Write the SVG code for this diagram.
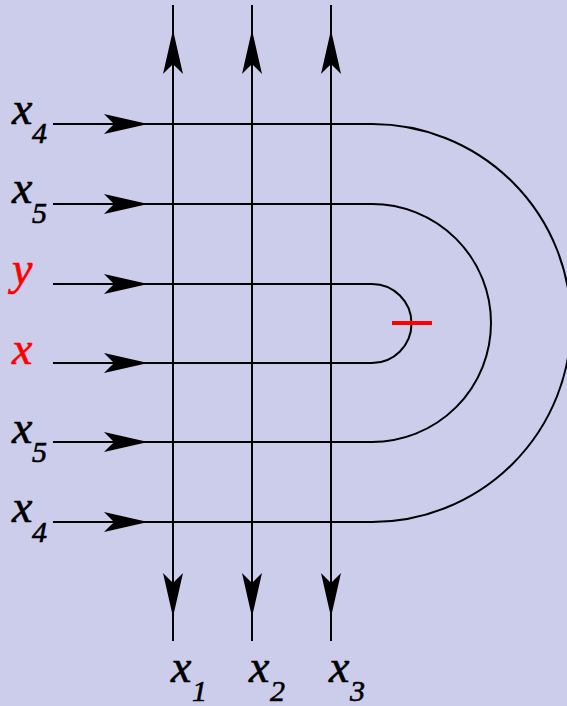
<svg xmlns="http://www.w3.org/2000/svg" xmlns:xlink="http://www.w3.org/1999/xlink" width="567" height="706" viewBox="0 0 567 706">
<style>
.ln{fill:none;stroke:#000;stroke-width:2}
text{font-family:'Liberation Serif','Times New Roman',serif;font-style:italic;fill:#000;stroke:#000;stroke-width:0.6}
.main{font-size:46px}
.sub{font-size:30px}
.red{fill:#ff0000;stroke:#ff0000}
</style>
<defs>
<path id="ah" d="M0,0 L-44,-10 Q-36,-2 -34,0 Q-36,2 -44,10 Z" fill="#000"/>
</defs>
<rect width="567" height="706" fill="#cccceb"/>
<g id="connectors">
<path class="ln" d="M53,124 H372 A199,199 0 0 1 372,522 H53"/>
<path class="ln" d="M53,204 H372 A119,119 0 0 1 372,442 H53"/>
<path class="ln" d="M53,284 H372 A39.5,39.5 0 0 1 372,363 H53"/>
<line class="ln" x1="173" y1="5" x2="173" y2="641"/>
<line class="ln" x1="252" y1="5" x2="252" y2="641"/>
<line class="ln" x1="331" y1="5" x2="331" y2="641"/>
<use xlink:href="#ah" transform="translate(148,124)"/>
<use xlink:href="#ah" transform="translate(148,204)"/>
<use xlink:href="#ah" transform="translate(148,284)"/>
<use xlink:href="#ah" transform="translate(148,363)"/>
<use xlink:href="#ah" transform="translate(148,442)"/>
<use xlink:href="#ah" transform="translate(148,522)"/>
<use xlink:href="#ah" transform="translate(173,30) rotate(-90)"/>
<use xlink:href="#ah" transform="translate(252,30) rotate(-90)"/>
<use xlink:href="#ah" transform="translate(331,30) rotate(-90)"/>
<use xlink:href="#ah" transform="translate(173,617) rotate(90)"/>
<use xlink:href="#ah" transform="translate(252,617) rotate(90)"/>
<use xlink:href="#ah" transform="translate(331,617) rotate(90)"/>
<line x1="392" y1="323" x2="432" y2="323" stroke="#ff0000" stroke-width="4"/>
</g>
<g id="label-x4-top"><text class="main" x="12" y="124">x</text><text class="sub" x="32" y="143">4</text></g>
<g id="label-x5-top"><text class="main" x="12" y="203">x</text><text class="sub" x="32" y="223">5</text></g>
<g id="label-y"><text class="main red" x="12" y="284">y</text></g>
<g id="label-x"><text class="main red" x="12" y="364">x</text></g>
<g id="label-x5-bottom"><text class="main" x="12" y="443">x</text><text class="sub" x="32" y="462">5</text></g>
<g id="label-x4-bottom"><text class="main" x="12" y="522">x</text><text class="sub" x="32" y="542">4</text></g>
<g id="label-x1"><text class="main" x="171" y="682">x</text><text class="sub" x="192" y="701">1</text></g>
<g id="label-x2"><text class="main" x="249" y="682">x</text><text class="sub" x="270" y="701">2</text></g>
<g id="label-x3"><text class="main" x="329" y="682">x</text><text class="sub" x="350" y="701">3</text></g>
</svg>
